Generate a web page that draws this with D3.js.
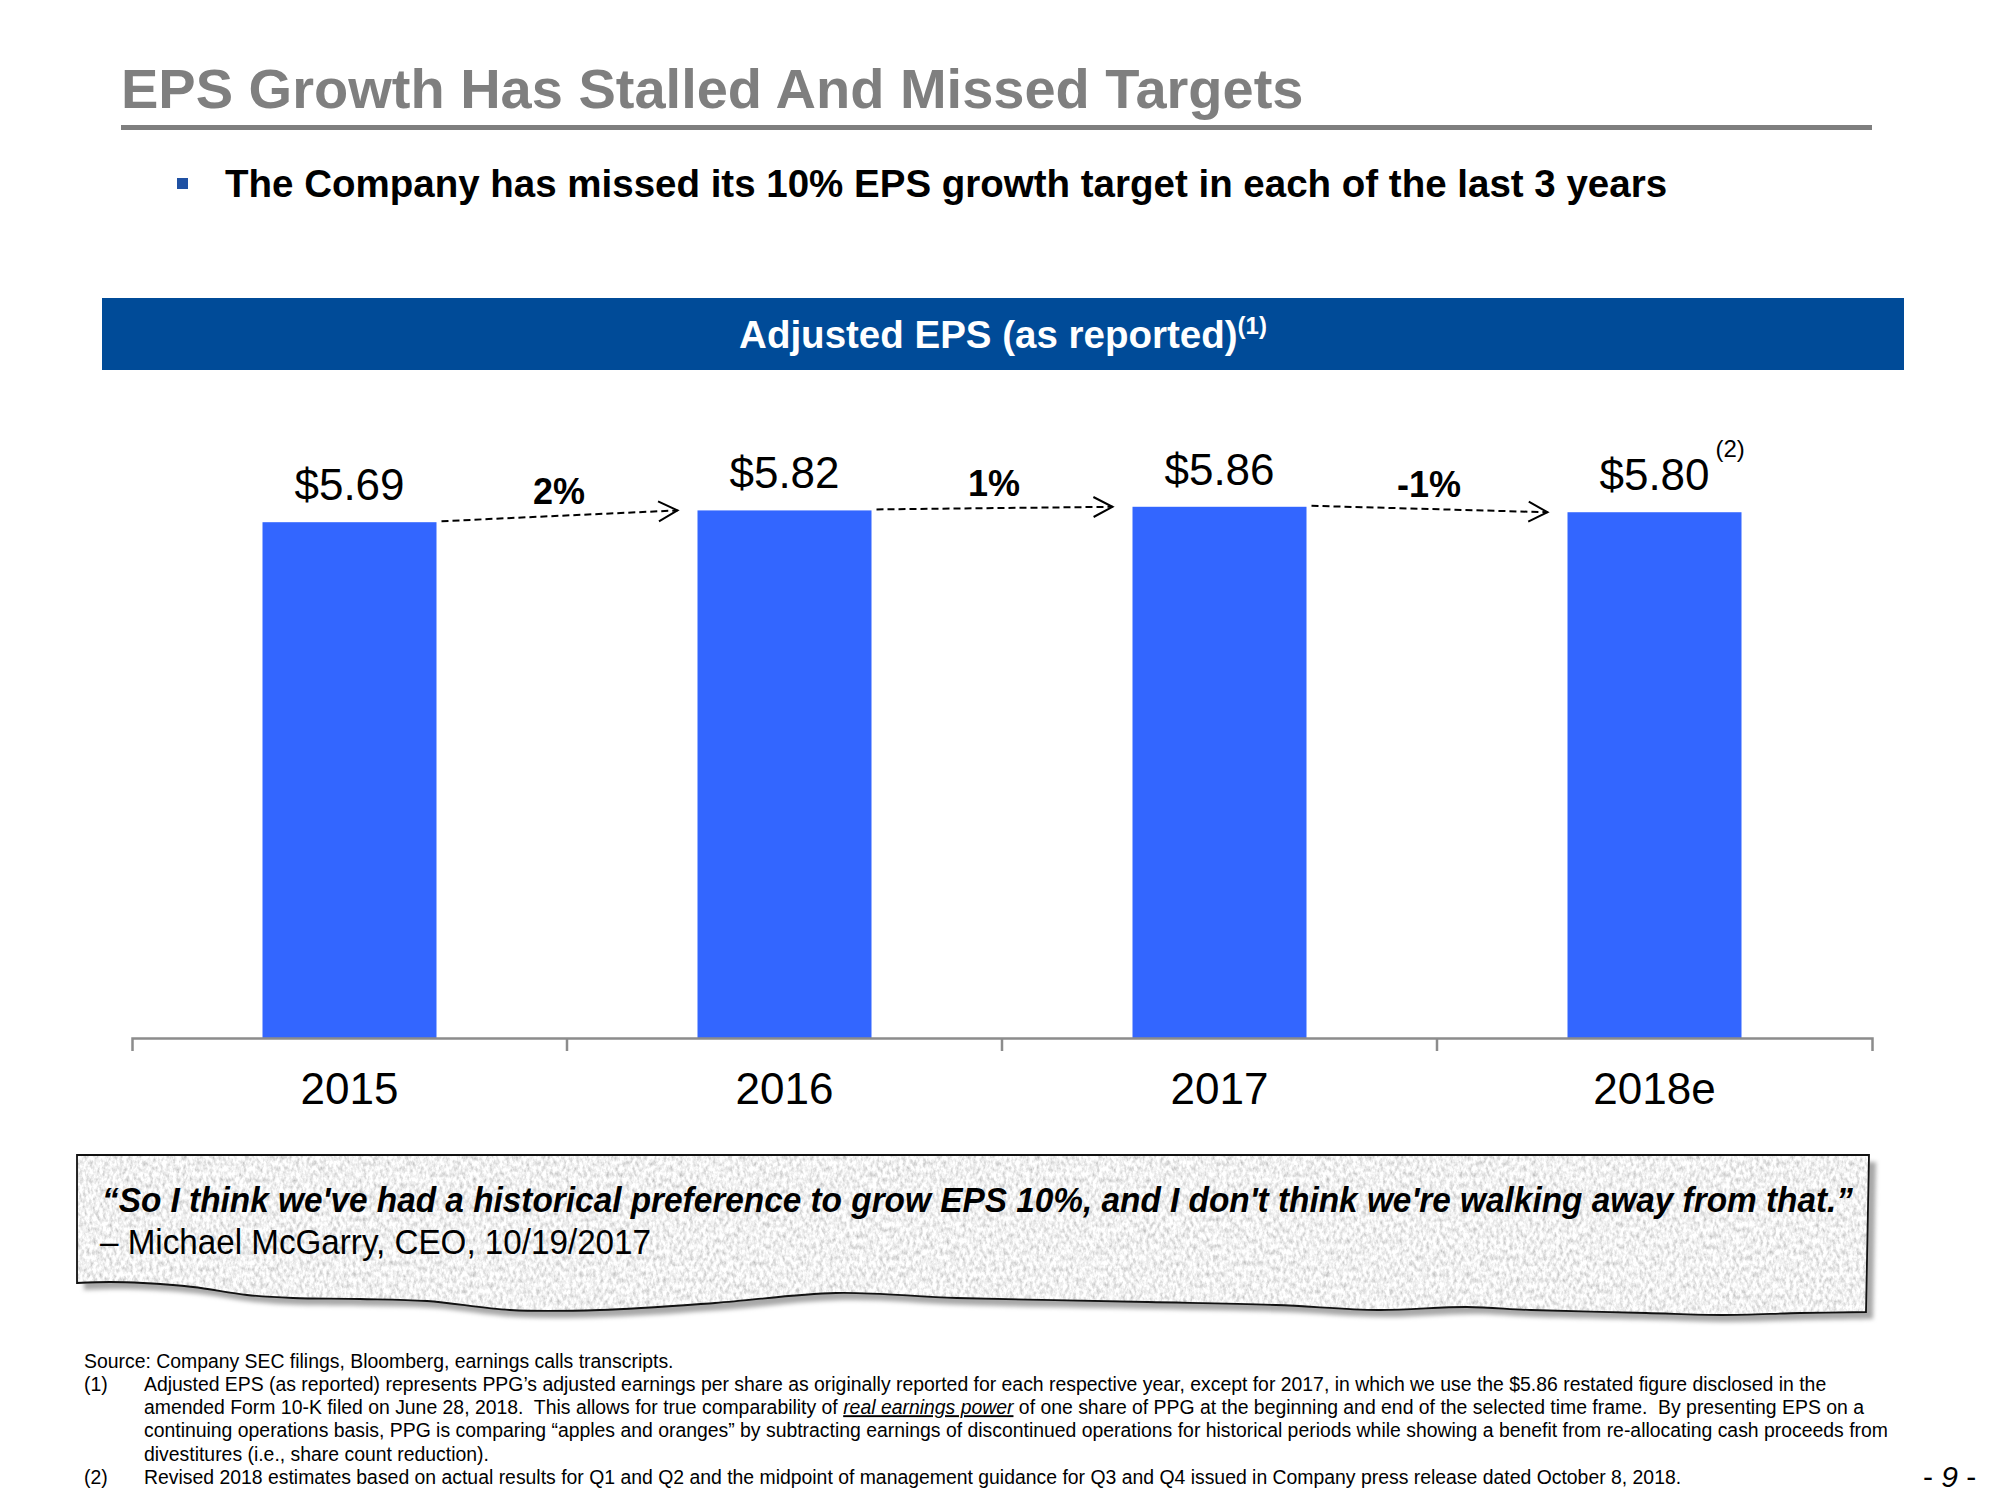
<!DOCTYPE html>
<html>
<head>
<meta charset="utf-8">
<script src="https://cdn.jsdelivr.net/npm/d3@7"></script>
<style>
  body { margin: 0; background: #fff; }
  svg { display: block; }
  text { font-family: "Liberation Sans", Arial, sans-serif; }
</style>
</head>
<body>
<svg></svg>
<script>
// chart data
const years = ['2015', '2016', '2017', '2018e'];
const eps = [5.69, 5.82, 5.86, 5.80];
const epsLabels = ['$5.69', '$5.82', '$5.86', '$5.80'];
const epsNotes = ['', '', '', '(2)'];
const growthLabels = ['2%', '1%', '-1%'];

// page texts
const pageTitle = 'EPS Growth Has Stalled And Missed Targets';
const bulletText = 'The Company has missed its 10% EPS growth target in each of the last 3 years';
const bannerText = 'Adjusted EPS (as reported)';
const quoteLines = [
  '\u201CSo I think we\'ve had a historical preference to grow EPS 10%, and I don\'t think we\'re walking away from that.\u201D',
  '\u2013 Michael McGarry, CEO, 10/19/2017'
];
const sourceLine = 'Source: Company SEC filings, Bloomberg, earnings calls transcripts.';
const footnote1 = [
  [['Adjusted EPS (as reported) represents PPG\u2019s adjusted earnings per share as originally reported for each respective year, except for 2017, in which we use the $5.86 restated figure disclosed in the', false]],
  [['amended Form 10-K filed on June 28, 2018.  This allows for true comparability of ', false], ['real earnings power', true], [' of one share of PPG at the beginning and end of the selected time frame.  By presenting EPS on a', false]],
  [['continuing operations basis, PPG is comparing \u201Capples and oranges\u201D by subtracting earnings of discontinued operations for historical periods while showing a benefit from re-allocating cash proceeds from', false]],
  [['divestitures (i.e., share count reduction).', false]]
];
const footnote2 = 'Revised 2018 estimates based on actual results for Q1 and Q2 and the midpoint of management guidance for Q3 and Q4 issued in Company press release dated October 8, 2018.';

const width = 2000;
const height = 1500;

const bars = years.map((year, i) => ({
  year, value: eps[i], label: epsLabels[i], note: epsNotes[i]
}));

const svg = d3.select('svg')
  .attr('width', width)
  .attr('height', height);

// header
svg.append('text')
  .attr('x', 121).attr('y', 108)
  .attr('font-size', 56).attr('font-weight', 'bold')
  .attr('fill', '#7f7f7f')
  .text(pageTitle);

svg.append('rect')
  .attr('x', 121).attr('y', 125)
  .attr('width', 1751).attr('height', 5)
  .attr('fill', '#7f7f7f');

svg.append('rect')
  .attr('x', 177).attr('y', 178)
  .attr('width', 11).attr('height', 11)
  .attr('fill', '#1f51a3');

svg.append('text')
  .attr('x', 225).attr('y', 197)
  .attr('font-size', 38.5).attr('font-weight', 'bold')
  .attr('fill', '#000')
  .text(bulletText);

// blue banner
svg.append('rect')
  .attr('x', 102).attr('y', 298)
  .attr('width', 1802).attr('height', 72)
  .attr('fill', '#004b98');

const banner = svg.append('text')
  .attr('x', 1003).attr('y', 348)
  .attr('text-anchor', 'middle')
  .attr('font-size', 38.5).attr('font-weight', 'bold')
  .attr('fill', '#fff');
banner.append('tspan').text(bannerText);
banner.append('tspan').attr('font-size', 24).attr('dy', -14).text('(1)');

// scales
const x = d3.scaleBand()
  .domain(years)
  .range([132, 1872])
  .paddingInner(0.6)
  .paddingOuter(0.3);

const y = d3.scaleLinear()
  .domain([0, 6])
  .range([1038, 494.1]);

const bw = x.bandwidth();
const gap = x.step() - bw;

// bars
svg.append('g')
  .selectAll('rect')
  .data(bars)
  .enter()
  .append('rect')
  .attr('x', d => x(d.year))
  .attr('y', d => y(d.value))
  .attr('width', bw)
  .attr('height', d => y(0) - y(d.value))
  .attr('fill', '#3366ff');

// axis
const axis = svg.append('g')
  .attr('transform', `translate(0,${y(0)})`)
  .call(d3.axisBottom(x).tickSizeInner(0).tickSizeOuter(13).tickPadding(0));

axis.select('.domain')
  .attr('stroke', '#8c8c8c')
  .attr('stroke-width', 2.5);

axis.selectAll('.tick text')
  .attr('dy', null)
  .attr('y', 66)
  .attr('font-size', 44)
  .attr('font-family', '"Liberation Sans", Arial, sans-serif')
  .attr('fill', '#000');

// boundary ticks between categories
axis.selectAll('.sep')
  .data(years.slice(1))
  .enter()
  .append('line')
  .attr('x1', d => x(d) - gap / 2)
  .attr('x2', d => x(d) - gap / 2)
  .attr('y1', 0)
  .attr('y2', 13)
  .attr('stroke', '#8c8c8c')
  .attr('stroke-width', 2.5);

// value labels
svg.append('g')
  .selectAll('text')
  .data(bars)
  .enter()
  .append('text')
  .attr('x', d => x(d.year) + bw / 2)
  .attr('y', d => y(d.value) - 22)
  .attr('text-anchor', 'middle')
  .attr('font-size', 44)
  .attr('fill', '#000')
  .text(d => d.label);

svg.append('g')
  .selectAll('text')
  .data(bars.filter(d => d.note))
  .enter()
  .append('text')
  .attr('x', d => x(d.year) + bw / 2 + 61)
  .attr('y', d => y(d.value) - 55)
  .attr('font-size', 24)
  .attr('fill', '#000')
  .text(d => d.note);

// growth arrows
const arrows = growthLabels.map((label, i) => ({
  label,
  x1: x(years[i]) + bw + 5,
  y1: y(eps[i]) - 1,
  x2: x(years[i + 1]) - 20,
  y2: y(eps[i + 1]),
  mid: (x(years[i]) + x(years[i + 1])) / 2 + bw / 2
}));

const ag = svg.append('g');

ag.selectAll('line')
  .data(arrows)
  .enter()
  .append('line')
  .attr('x1', d => d.x1).attr('y1', d => d.y1)
  .attr('x2', d => d.x2).attr('y2', d => d.y2)
  .attr('stroke', '#000')
  .attr('stroke-width', 2)
  .attr('stroke-dasharray', '7,4');

ag.selectAll('path')
  .data(arrows)
  .enter()
  .append('path')
  .attr('d', 'M-19,-10L0,0L-19,10')
  .attr('fill', 'none')
  .attr('stroke', '#000')
  .attr('stroke-width', 2)
  .attr('transform', d => {
    const a = Math.atan2(d.y2 - d.y1, d.x2 - d.x1) * 180 / Math.PI;
    return `translate(${d.x2},${d.y2}) rotate(${a})`;
  });

ag.selectAll('text')
  .data(arrows)
  .enter()
  .append('text')
  .attr('x', d => d.mid - 8)
  .attr('y', d => (d.y1 + d.y2) / 2 - 12)
  .attr('text-anchor', 'middle')
  .attr('font-size', 36)
  .attr('font-weight', 'bold')
  .attr('fill', '#000')
  .text(d => d.label);

// torn paper quote box
const defs = svg.append('defs');
const paper = defs.append('filter')
  .attr('id', 'paper')
  .attr('x', 0).attr('y', 0).attr('width', 1).attr('height', 1);
paper.append('feTurbulence')
  .attr('type', 'fractalNoise')
  .attr('baseFrequency', '0.3 0.18')
  .attr('numOctaves', 3)
  .attr('seed', 7)
  .attr('result', 'noise');
paper.append('feColorMatrix')
  .attr('in', 'noise')
  .attr('type', 'matrix')
  .attr('values', '0.9 0 0 0 0.43  0.9 0 0 0 0.43  0.9 0 0 0 0.43  0 0 0 0 1')
  .attr('result', 'grey');
paper.append('feComposite')
  .attr('in', 'grey')
  .attr('in2', 'SourceGraphic')
  .attr('operator', 'in');

const blur = defs.append('filter').attr('id', 'soft');
blur.append('feGaussianBlur').attr('stdDeviation', 2);

const torn = [
  [77, 1283], [110, 1282], [143, 1283], [193, 1287], [247, 1295], [293, 1298],
  [360, 1299], [427, 1301], [510, 1310], [600, 1310], [715, 1303], [836, 1293],
  [957, 1298], [1148, 1302], [1276, 1305], [1378, 1310], [1467, 1307], [1531, 1310],
  [1646, 1313], [1722, 1315], [1800, 1313], [1866, 1312]
];
const edge = d3.line().curve(d3.curveCatmullRom);
const boxPath = 'M77,1155L1869,1155L1866,1312' +
  edge(torn.slice().reverse()).replace(/^M/, 'L') + 'Z';

svg.append('path')
  .attr('d', boxPath)
  .attr('transform', 'translate(7,7)')
  .attr('fill', '#a8a8a8')
  .attr('filter', 'url(#soft)');

svg.append('path')
  .attr('d', boxPath)
  .attr('fill', '#ddd')
  .attr('filter', 'url(#paper)');

svg.append('path')
  .attr('d', boxPath)
  .attr('fill', 'none')
  .attr('stroke', '#111')
  .attr('stroke-width', 1.8);

svg.append('text')
  .attr('x', 102).attr('y', 1212)
  .attr('font-size', 35).attr('font-weight', 'bold').attr('font-style', 'italic')
  .attr('textLength', 1751).attr('lengthAdjust', 'spacingAndGlyphs')
  .attr('fill', '#000')
  .text(quoteLines[0]);

svg.append('text')
  .attr('x', 100).attr('y', 1254)
  .attr('font-size', 35)
  .attr('textLength', 551).attr('lengthAdjust', 'spacingAndGlyphs')
  .attr('fill', '#000')
  .text(quoteLines[1]);

// footnotes
const notes = svg.append('g')
  .attr('font-size', 19.4)
  .attr('fill', '#000');

notes.append('text').attr('x', 84).attr('y', 1368).text(sourceLine);
notes.append('text').attr('x', 84).attr('y', 1391).text('(1)');

footnote1.forEach((parts, i) => {
  const t = notes.append('text')
    .attr('x', 144).attr('y', 1391 + i * 23.2)
    .attr('xml:space', 'preserve');
  parts.forEach(([s, em]) => {
    const span = t.append('tspan').text(s);
    if (em) span.attr('font-style', 'italic').attr('text-decoration', 'underline');
  });
});

notes.append('text').attr('x', 84).attr('y', 1484).text('(2)');
notes.append('text').attr('x', 144).attr('y', 1484).text(footnote2);

// page number
const pg = svg.append('text')
  .attr('x', 1923).attr('y', 1487)
  .attr('font-size', 30)
  .attr('fill', '#000')
  .attr('xml:space', 'preserve');
pg.append('tspan').text('- ');
pg.append('tspan').attr('font-style', 'italic').text('9');
pg.append('tspan').text(' -');
</script>
</body>
</html>
